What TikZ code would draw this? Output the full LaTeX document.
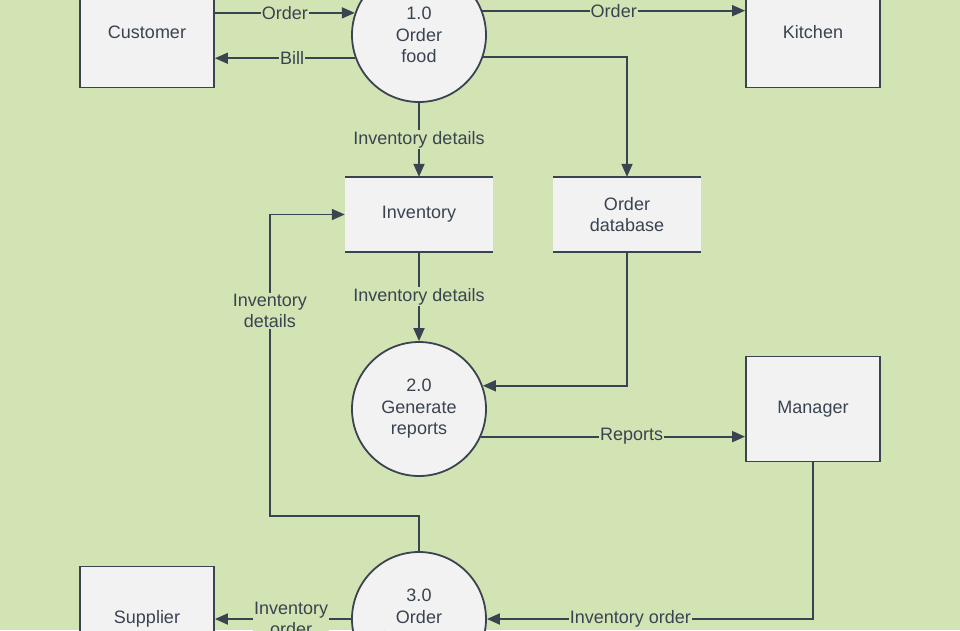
\documentclass[tikz,border=0pt]{standalone}
\usepackage{fontspec}
\setmainfont{Liberation Sans}
\usepackage{tikz}
\usetikzlibrary{arrows.meta,positioning}
\definecolor{bg}{HTML}{D3E4B4}
\definecolor{boxfill}{HTML}{F2F2F2}
\definecolor{ink}{HTML}{3A4350}

\begin{document}
\begin{tikzpicture}[x=1pt,y=1pt,on grid,
  font=\fontsize{18}{21.5}\selectfont,text=ink,
  entity/.style={draw=ink,fill=boxfill,line width=1.8pt,minimum width=134pt,minimum height=105pt,inner sep=0pt},
  process/.style={circle,draw=ink,fill=boxfill,line width=1.8pt,minimum size=134pt,inner sep=0pt,align=center},
  store/.style={fill=boxfill,minimum width=148pt,minimum height=75pt,inner sep=0pt,align=center},
  flow/.style={draw=ink,line width=1.8pt,-{Triangle[length=13pt,width=11pt]}},
  lbl/.style={fill=bg,inner sep=1pt,align=center,text=ink}]
  \path[use as bounding box,fill=bg] (-419,35) rectangle (541,-595);

  \node[process] (p1) {1.0\\Order\\food};
  \node[entity,minimum height=111pt,yshift=3pt] (cust) [left = 272pt of p1] {Customer};
  \node[entity,minimum height=111pt,yshift=3pt] (kit) [right = 394pt of p1] {Kitchen};
  \node[store] (inv) [below = 179.5pt of p1] {Inventory};
  \node[store] (odb) [right = 208pt of inv] {Order\\database};
  \node[process] (p2) [below = 194.5pt of inv] {2.0\\Generate\\reports};
  \node[entity] (mgr) [right = 394pt of p2] {Manager};
  \node[process] (p3) [below = 210pt of p2] {3.0\\Order\\inventory};
  \node[entity] (sup) [left = 272pt of p3] {Supplier};
  \coordinate (jog) at ([xshift=-75pt]inv.west);

  \foreach \s in {inv,odb}
    \draw[ink,line width=1.8pt] (\s.north west) -- (\s.north east) (\s.south west) -- (\s.south east);

  \path
  (cust.east |- p1.161)
  edge [flow] node [lbl] {Order} (p1.161)
  (p1.200)
  edge [flow] node [lbl,pos=0.45] {Bill} (cust.east |- p1.200)
  (p1.21)
  edge [flow] node [lbl] {Order} (kit.west |- p1.21)
  (p1)
  edge [flow] node [lbl] {Inventory details} (inv)
  (inv)
  edge [flow] node [lbl] {Inventory details} (p2)
  (p2.-24)
  edge [flow] node [lbl,pos=0.57] {Reports} (mgr.west |- p2.-24)
  (p3)
  edge [flow] node [lbl,pos=0.44] {Inventory\\order} (sup)
  ;

  \draw[flow] (p1.-19) -| (odb.north);
  \draw[flow] (odb.south) |- (p2.20);
  \draw[flow] (mgr.south) |- node [lbl,pos=0.78] {Inventory order} (p3.east);
  \draw[flow] (p3.north) -- ++(0,35) -| node [lbl,pos=0.84] {Inventory\\details} (jog) -- (inv.west);
\end{tikzpicture}
\end{document}
